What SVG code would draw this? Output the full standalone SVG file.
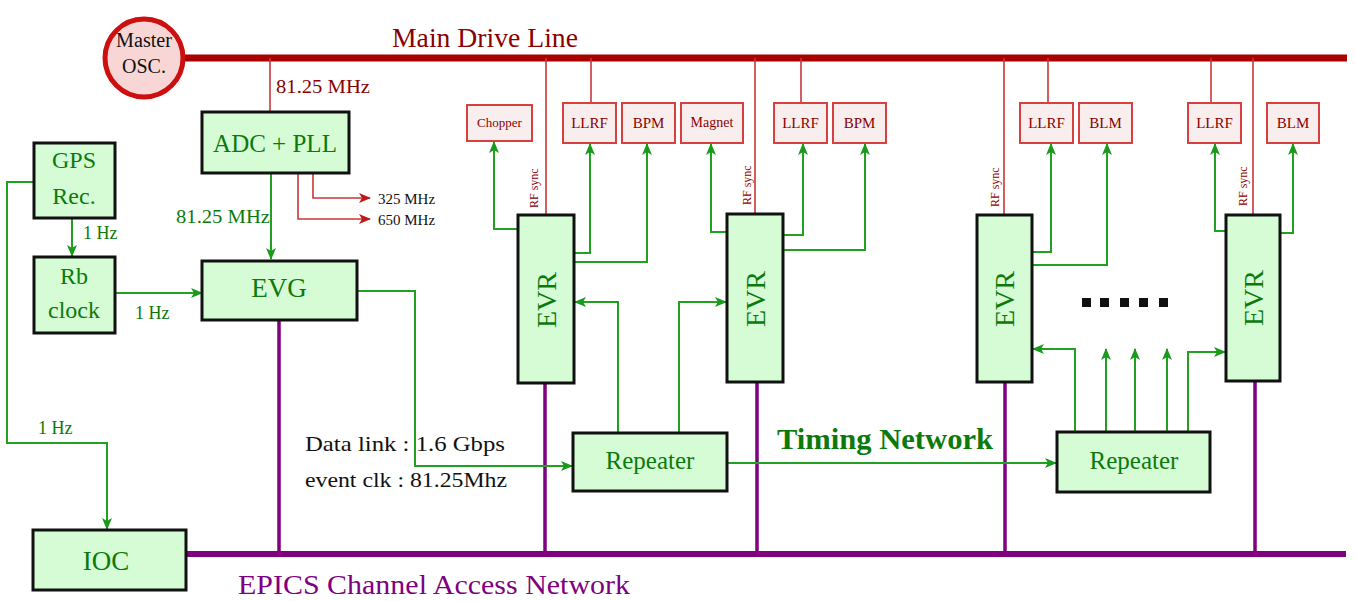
<svg xmlns="http://www.w3.org/2000/svg" width="1355" height="601" viewBox="0 0 1355 601">
<style>
.box{fill:#d6fcd6;stroke:#111;stroke-width:3}
.lbl{fill:#f8eeee;stroke:#d84040;stroke-width:2}
.gt{font-family:"Liberation Serif",serif;fill:#0b7a0b}
.rt{font-family:"Liberation Serif",serif;fill:#8b0000}
.kt{font-family:"Liberation Serif",serif;fill:#111}
.g{fill:none;stroke:#22a022;stroke-width:2}
.r{fill:none;stroke:#c83838;stroke-width:1.6}
.p{fill:none;stroke:#800080;stroke-width:3.5}
</style>
<defs>
<marker id="ag" markerUnits="userSpaceOnUse" markerWidth="12" markerHeight="10" refX="11" refY="5" orient="auto"><path d="M0,0 L12,5 L0,10 L3,5 z" fill="#1a9a1a"/></marker>
<marker id="ar" markerUnits="userSpaceOnUse" markerWidth="12" markerHeight="10" refX="11" refY="5" orient="auto"><path d="M0,0 L12,5 L0,10 L3,5 z" fill="#c01818"/></marker>
</defs>
<rect width="1355" height="601" fill="#fff"/>

<g id="connectors">
<line x1="184" y1="58" x2="1347" y2="58" stroke="#aa0000" stroke-width="7"/>
<line x1="186" y1="554" x2="1346" y2="554" stroke="#800080" stroke-width="6"/>
<path class="r" d="M270,58 V112"/>
<path class="r" d="M546,58 V215 M591,58 V103 M755,58 V214 M801,58 V103 M1004,58 V215 M1048,58 V103 M1211,58 V103 M1253,58 V215"/>
<path class="r" d="M313,173 V198 H370" marker-end="url(#ar)"/>
<path class="r" d="M298,173 V219 H370" marker-end="url(#ar)"/>
<path class="p" d="M279,320 V554 M545,383 V554 M757,382 V554 M1005,382 V554 M1255,381 V554"/>
<path class="g" d="M271,173 V259" marker-end="url(#ag)"/>
<path class="g" d="M72,218 V256" marker-end="url(#ag)"/>
<path class="g" d="M115,293 H202" marker-end="url(#ag)"/>
<path class="g" d="M34,182 H7 V443 H107 V529" marker-end="url(#ag)"/>
<path class="g" d="M356,291 H415 V466 H572" marker-end="url(#ag)"/>
<path class="g" d="M727,463 H1056" marker-end="url(#ag)"/>
<path class="g" d="M518,229 H494 V142" marker-end="url(#ag)"/>
<path class="g" d="M574,253 H590 V144" marker-end="url(#ag)"/>
<path class="g" d="M574,262 H647 V144" marker-end="url(#ag)"/>
<path class="g" d="M618,433 V302 H575" marker-end="url(#ag)"/>
<path class="g" d="M679,433 V302 H726" marker-end="url(#ag)"/>
<path class="g" d="M727,232 H711 V144" marker-end="url(#ag)"/>
<path class="g" d="M783,235 H803 V144" marker-end="url(#ag)"/>
<path class="g" d="M783,250 H865 V144" marker-end="url(#ag)"/>
<path class="g" d="M1032,252 H1051 V144" marker-end="url(#ag)"/>
<path class="g" d="M1032,265 H1107 V144" marker-end="url(#ag)"/>
<path class="g" d="M1075,432 V349 H1033" marker-end="url(#ag)"/>
<path class="g" d="M1226,231 H1215 V144" marker-end="url(#ag)"/>
<path class="g" d="M1280,233 H1293 V144" marker-end="url(#ag)"/>
<path class="g" d="M1188,432 V352 H1225" marker-end="url(#ag)"/>
<path class="g" d="M1106,432 V349" marker-end="url(#ag)"/>
<path class="g" d="M1135,432 V349" marker-end="url(#ag)"/>
<path class="g" d="M1167,432 V349" marker-end="url(#ag)"/>
</g>

<g id="master-osc">
<circle cx="144" cy="58" r="39" fill="#f8d6d6" stroke="#cc1010" stroke-width="5"/>
<text class="kt" x="144" y="47" font-size="20" text-anchor="middle" textLength="56" lengthAdjust="spacingAndGlyphs">Master</text>
<text class="kt" x="144" y="73" font-size="20" text-anchor="middle">OSC.</text>
</g>
<text class="rt" x="392" y="47" font-size="28" textLength="186" lengthAdjust="spacingAndGlyphs" fill="#aa0000">Main Drive Line</text>
<text class="rt" x="276" y="93" font-size="19" textLength="94" lengthAdjust="spacingAndGlyphs">81.25 MHz</text>

<g id="adc-pll">
<rect class="box" x="202" y="112" width="147" height="61"/>
<text class="gt" x="275" y="152" font-size="25" text-anchor="middle">ADC + PLL</text>
</g>
<text class="kt" x="378" y="204" font-size="15">325 MHz</text>
<text class="kt" x="378" y="225" font-size="15">650 MHz</text>
<text class="gt" x="176" y="223" font-size="19" textLength="94" lengthAdjust="spacingAndGlyphs">81.25 MHz</text>

<g id="gps">
<rect class="box" x="34" y="143" width="81" height="75"/>
<text class="gt" x="74" y="168" font-size="24" text-anchor="middle">GPS</text>
<text class="gt" x="74" y="204" font-size="24" text-anchor="middle">Rec.</text>
</g>
<text class="gt" x="83" y="239" font-size="18">1 Hz</text>

<g id="rb-clock">
<rect class="box" x="34" y="257" width="81" height="76"/>
<text class="gt" x="74" y="284" font-size="24" text-anchor="middle">Rb</text>
<text class="gt" x="74" y="318" font-size="24" text-anchor="middle">clock</text>
</g>
<text class="gt" x="135" y="319" font-size="18">1 Hz</text>

<g id="evg">
<rect class="box" x="202" y="261" width="155" height="59"/>
<text class="gt" x="279" y="297" font-size="27" text-anchor="middle">EVG</text>
</g>

<text class="gt" x="38" y="434" font-size="18">1 Hz</text>

<g id="ioc">
<rect class="box" x="33" y="530" width="153" height="60"/>
<text class="gt" x="106" y="570" font-size="27" text-anchor="middle">IOC</text>
</g>

<text x="238" y="594" font-size="27" font-family="'Liberation Serif',serif" fill="#800080" textLength="392" lengthAdjust="spacingAndGlyphs">EPICS Channel Access Network</text>

<text class="kt" x="305" y="451" font-size="22" textLength="200" lengthAdjust="spacingAndGlyphs">Data link : 1.6 Gbps</text>
<text class="kt" x="305" y="487" font-size="22" textLength="202" lengthAdjust="spacingAndGlyphs">event clk : 81.25Mhz</text>

<g id="repeater1">
<rect class="box" x="573" y="433" width="154" height="58"/>
<text class="gt" x="650" y="469" font-size="25" text-anchor="middle">Repeater</text>
</g>
<text class="gt" x="777" y="449" font-size="29" font-weight="bold" textLength="216" lengthAdjust="spacingAndGlyphs">Timing Network</text>
<g id="repeater2">
<rect class="box" x="1057" y="432" width="153" height="60"/>
<text class="gt" x="1134" y="469" font-size="25" text-anchor="middle">Repeater</text>
</g>

<g id="evr1">
<rect class="box" x="518" y="215" width="56" height="168"/>
<text class="gt" font-size="28" text-anchor="middle" transform="translate(556,300) rotate(-90)">EVR</text>
<text class="rt" font-size="12" transform="translate(538,208) rotate(-90)">RF sync</text>
</g>
<g id="evr2">
<rect class="box" x="727" y="214" width="56" height="168"/>
<text class="gt" font-size="28" text-anchor="middle" transform="translate(765,299) rotate(-90)">EVR</text>
<text class="rt" font-size="12" transform="translate(751,205) rotate(-90)">RF sync</text>
</g>
<g id="evr3">
<rect class="box" x="977" y="215" width="55" height="167"/>
<text class="gt" font-size="28" text-anchor="middle" transform="translate(1014,299) rotate(-90)">EVR</text>
<text class="rt" font-size="12" transform="translate(999,207) rotate(-90)">RF sync</text>
</g>
<g id="evr4">
<rect class="box" x="1226" y="215" width="54" height="166"/>
<text class="gt" font-size="28" text-anchor="middle" transform="translate(1263,298) rotate(-90)">EVR</text>
<text class="rt" font-size="12" transform="translate(1247,206) rotate(-90)">RF sync</text>
</g>

<g id="dots" fill="#111">
<rect x="1082" y="298" width="9" height="9"/>
<rect x="1100" y="298" width="9" height="9"/>
<rect x="1120" y="298" width="9" height="9"/>
<rect x="1139" y="298" width="9" height="9"/>
<rect x="1159" y="298" width="9" height="9"/>
</g>

<g id="chopper"><rect class="lbl" x="467" y="105" width="65" height="36"/><text class="rt" x="499.5" y="127" font-size="13" text-anchor="middle">Chopper</text></g>
<g id="llrf1"><rect class="lbl" x="563" y="103" width="53" height="40"/><text class="rt" x="589.5" y="128" font-size="15" text-anchor="middle">LLRF</text></g>
<g id="bpm1"><rect class="lbl" x="622" y="103" width="53" height="40"/><text class="rt" x="648.5" y="128" font-size="15" text-anchor="middle">BPM</text></g>
<g id="magnet"><rect class="lbl" x="681" y="103" width="62" height="40"/><text class="rt" x="712" y="127" font-size="14" text-anchor="middle">Magnet</text></g>
<g id="llrf2"><rect class="lbl" x="774" y="103" width="53" height="40"/><text class="rt" x="800.5" y="128" font-size="15" text-anchor="middle">LLRF</text></g>
<g id="bpm2"><rect class="lbl" x="833" y="103" width="53" height="40"/><text class="rt" x="859.5" y="128" font-size="15" text-anchor="middle">BPM</text></g>
<g id="llrf3"><rect class="lbl" x="1020" y="103" width="53" height="40"/><text class="rt" x="1046.5" y="128" font-size="15" text-anchor="middle">LLRF</text></g>
<g id="blm3"><rect class="lbl" x="1079" y="103" width="53" height="40"/><text class="rt" x="1105.5" y="128" font-size="15" text-anchor="middle">BLM</text></g>
<g id="llrf4"><rect class="lbl" x="1188" y="103" width="53" height="40"/><text class="rt" x="1214.5" y="128" font-size="15" text-anchor="middle">LLRF</text></g>
<g id="blm4"><rect class="lbl" x="1267" y="103" width="52" height="40"/><text class="rt" x="1293" y="128" font-size="15" text-anchor="middle">BLM</text></g>
</svg>
